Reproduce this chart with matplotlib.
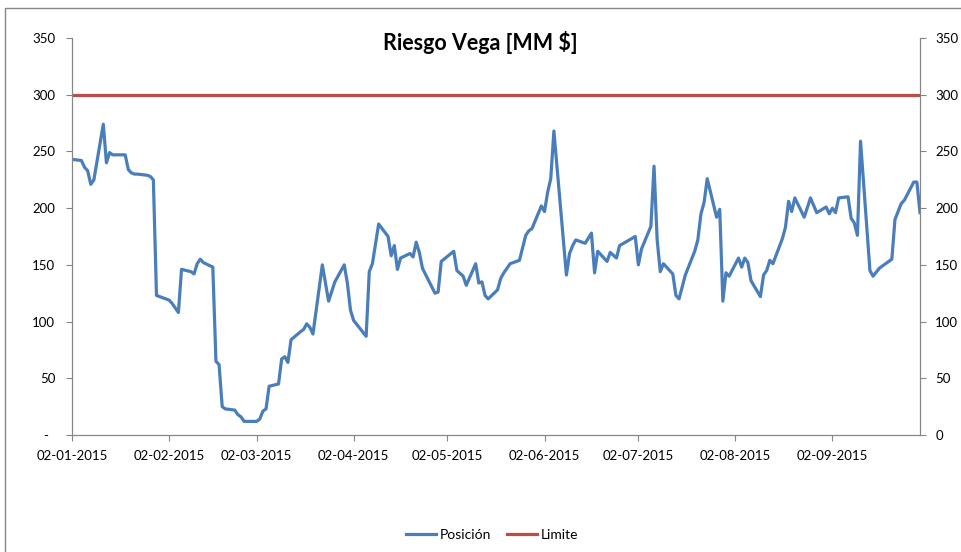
import matplotlib
matplotlib.use("Agg")
import matplotlib.pyplot as plt
import matplotlib.dates as mdates
from matplotlib.patches import Rectangle
import pandas as pd

# datos (fecha, posicion en MM $)
fechas = [
    "2015-01-02", "2015-01-05", "2015-01-06", "2015-01-07", "2015-01-08", "2015-01-09",
    "2015-01-12", "2015-01-13", "2015-01-14", "2015-01-15", "2015-01-16", "2015-01-19",
    "2015-01-20", "2015-01-21", "2015-01-22", "2015-01-23", "2015-01-26", "2015-01-27",
    "2015-01-28", "2015-01-29", "2015-01-30", "2015-02-02", "2015-02-03", "2015-02-04",
    "2015-02-05", "2015-02-06", "2015-02-09", "2015-02-10", "2015-02-11", "2015-02-12",
    "2015-02-13", "2015-02-16", "2015-02-17", "2015-02-18", "2015-02-19", "2015-02-20",
    "2015-02-23", "2015-02-24", "2015-02-25", "2015-02-26", "2015-02-27", "2015-03-02",
    "2015-03-03", "2015-03-04", "2015-03-05", "2015-03-06", "2015-03-09", "2015-03-10",
    "2015-03-11", "2015-03-12", "2015-03-13", "2015-03-16", "2015-03-17", "2015-03-18",
    "2015-03-19", "2015-03-20", "2015-03-23", "2015-03-25", "2015-03-27", "2015-03-30",
    "2015-03-31", "2015-04-01", "2015-04-02", "2015-04-06", "2015-04-07", "2015-04-08",
    "2015-04-10", "2015-04-13", "2015-04-14", "2015-04-15", "2015-04-16", "2015-04-17",
    "2015-04-20", "2015-04-21", "2015-04-22", "2015-04-23", "2015-04-24", "2015-04-28",
    "2015-04-29", "2015-04-30", "2015-05-04", "2015-05-05", "2015-05-07", "2015-05-08",
    "2015-05-11", "2015-05-12", "2015-05-13", "2015-05-14", "2015-05-15", "2015-05-18",
    "2015-05-19", "2015-05-20", "2015-05-22", "2015-05-25", "2015-05-27", "2015-05-28",
    "2015-05-29", "2015-06-01", "2015-06-02", "2015-06-03", "2015-06-04", "2015-06-05",
    "2015-06-09", "2015-06-10", "2015-06-11", "2015-06-12", "2015-06-15", "2015-06-17",
    "2015-06-18", "2015-06-19", "2015-06-22", "2015-06-23", "2015-06-25", "2015-06-26",
    "2015-07-01", "2015-07-02", "2015-07-03", "2015-07-06", "2015-07-07", "2015-07-08",
    "2015-07-09", "2015-07-10", "2015-07-13", "2015-07-14", "2015-07-15", "2015-07-17",
    "2015-07-20", "2015-07-21", "2015-07-22", "2015-07-23", "2015-07-24", "2015-07-27",
    "2015-07-28", "2015-07-29", "2015-07-30", "2015-07-31", "2015-08-03", "2015-08-04",
    "2015-08-05", "2015-08-06", "2015-08-07", "2015-08-10", "2015-08-11", "2015-08-12",
    "2015-08-13", "2015-08-14", "2015-08-17", "2015-08-18", "2015-08-19", "2015-08-20",
    "2015-08-21", "2015-08-24", "2015-08-26", "2015-08-28", "2015-08-31", "2015-09-01",
    "2015-09-02", "2015-09-03", "2015-09-04", "2015-09-07", "2015-09-08", "2015-09-09",
    "2015-09-10", "2015-09-11", "2015-09-14", "2015-09-15", "2015-09-17", "2015-09-21",
    "2015-09-22", "2015-09-24", "2015-09-25", "2015-09-28", "2015-09-29", "2015-09-30",
]
posicion = [
    243, 242, 236, 233, 221, 225,
    274, 240, 249, 247, 247, 247,
    234, 231, 230, 230, 229, 228,
    225, 123, 122, 119, 116, 112,
    108, 146, 144, 142, 151, 155,
    152, 148, 65, 62, 25, 23,
    22, 18, 16, 12, 12, 12,
    14, 21, 23, 43, 45, 67,
    69, 64, 84, 91, 93, 98,
    95, 89, 150, 118, 135, 150,
    134, 110, 101, 87, 144, 151,
    186, 175, 158, 167, 146, 156,
    160, 157, 170, 161, 147, 125,
    126, 153, 162, 145, 140, 132,
    151, 134, 135, 123, 120, 128,
    138, 143, 151, 154, 176, 180,
    182, 202, 197, 214, 226, 268,
    141, 160, 167, 172, 169, 178,
    143, 162, 153, 161, 156, 167,
    175, 150, 164, 184, 237, 172,
    144, 151, 142, 123, 120, 141,
    162, 172, 195, 205, 226, 192,
    199, 118, 143, 140, 156, 148,
    156, 152, 136, 122, 141, 145,
    154, 151, 173, 183, 206, 197,
    209, 192, 209, 196, 201, 195,
    200, 196, 209, 210, 191, 187,
    176, 259, 145, 140, 147, 155,
    190, 204, 207, 223, 223, 196,
]
limite_valor = 300
limite = [limite_valor] * len(fechas)

y_ticks = [0, 50, 100, 150, 200, 250, 300, 350]
x_ticks = ["2015-01-02", "2015-02-02", "2015-03-02", "2015-04-02", "2015-05-02",
           "2015-06-02", "2015-07-02", "2015-08-02", "2015-09-02"]

fechas = pd.to_datetime(fechas)
x_ticks = pd.to_datetime(x_ticks)

plt.rcParams['font.family'] = ['Lato', 'DejaVu Sans']
gris = '#868686'

fig = plt.figure(figsize=(9.61, 5.52), dpi=100)
fig.patches.append(Rectangle((5 / 961, -0.05), 1.1, (552 - 8) / 552 + 0.05,
                             transform=fig.transFigure, fill=False,
                             edgecolor=gris, lw=1))

ax = fig.add_axes([72 / 961, 1 - 435 / 552, 848 / 961, 397 / 552])
ax.plot(fechas, posicion, color='#4A7EBB', lw=2.3, label='Posición',
        solid_joinstyle='round')
ax.plot(fechas, limite, color='#BE4B48', lw=2.3, label='Limite')

ax.set_xlim(fechas[0], fechas[-1])
ax.set_ylim(0, 350)
ax.set_yticks(y_ticks)
ax.set_yticklabels(['-  ' if v == 0 else str(v) for v in y_ticks])
ax.set_xticks(x_ticks)
ax.xaxis.set_major_formatter(mdates.DateFormatter('%d-%m-%Y'))

ax2 = ax.twinx()
ax2.set_ylim(0, 350)
ax2.set_yticks(y_ticks)
ax2.set_yticklabels([str(v) for v in y_ticks])

for a in (ax, ax2):
    a.spines['top'].set_visible(False)
    for s in ('left', 'right', 'bottom'):
        a.spines[s].set_color(gris)
    a.tick_params(colors=gris, labelcolor='black', labelsize=9.5, length=4)
ax.tick_params(axis='y', pad=8)
ax.tick_params(axis='x', pad=7)
ax2.tick_params(axis='y', pad=7)

fig.text(480 / 961, 1 - 43 / 552, 'Riesgo Vega [MM $]', ha='center', va='center',
         fontsize=15.5, fontweight='bold')

fig.legend(loc='center', bbox_to_anchor=(492 / 961, 1 - 535 / 552), ncol=2,
           frameon=False, fontsize=10, handlelength=2.2, handletextpad=0.25,
           columnspacing=1.1)

fig.savefig('out.png', dpi=100)
